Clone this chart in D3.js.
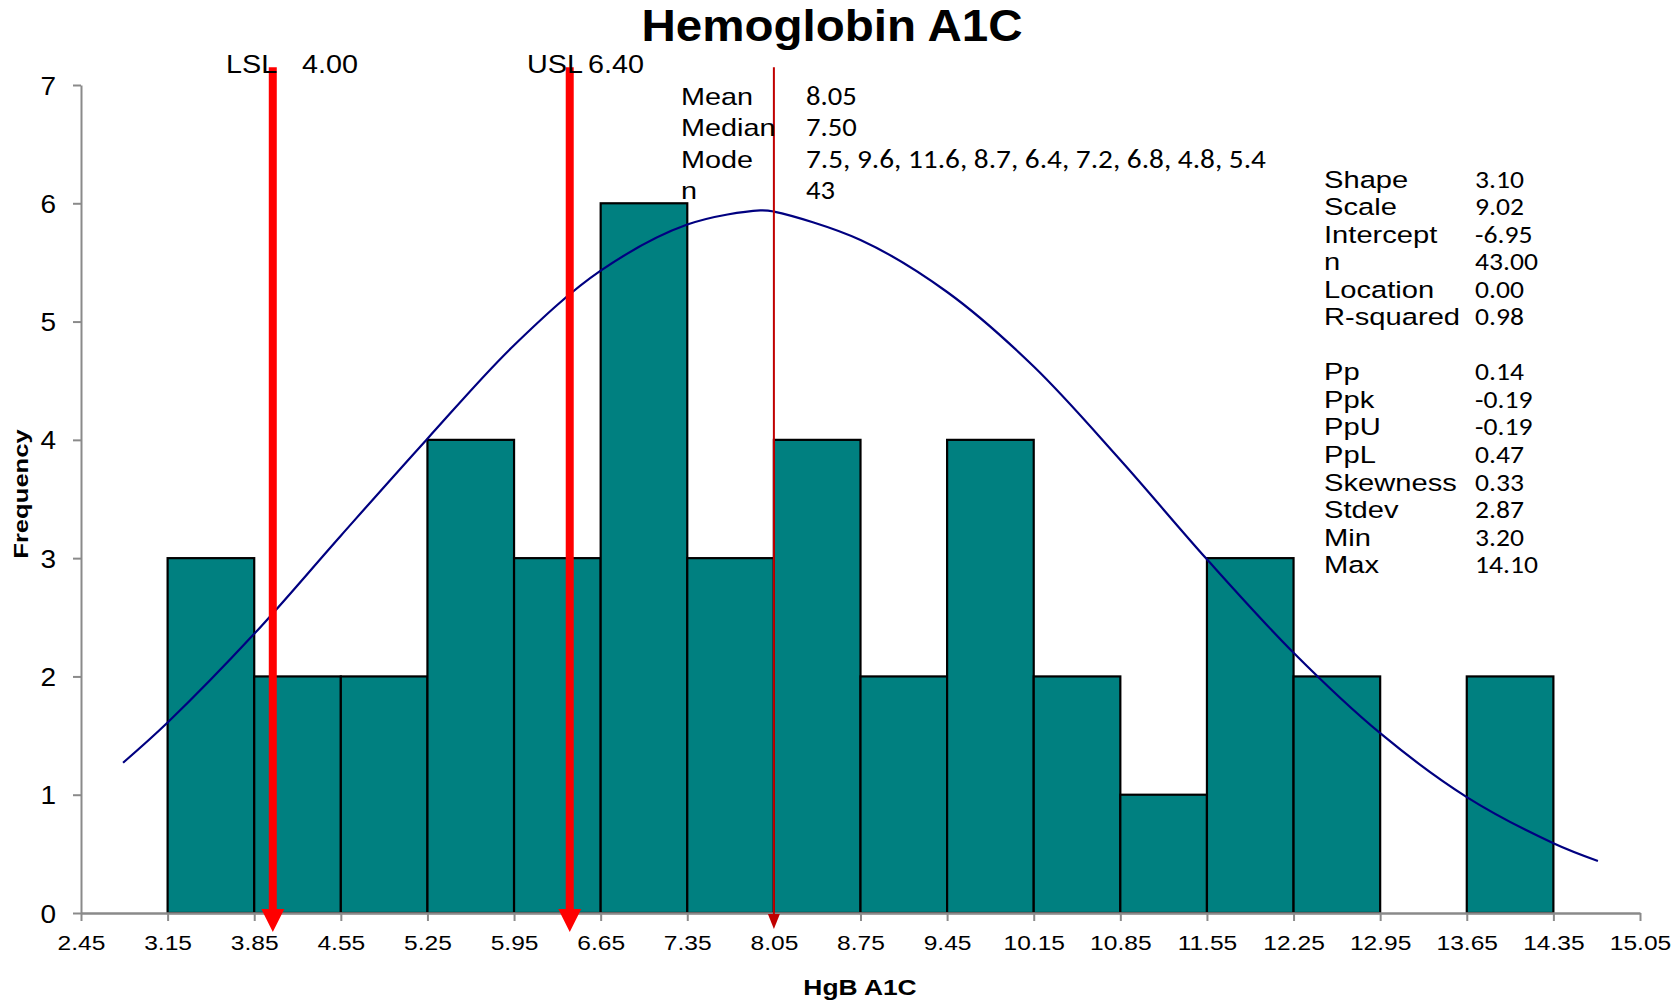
<!DOCTYPE html>
<html><head><meta charset="utf-8">
<script src="https://cdn.jsdelivr.net/npm/d3@7"></script>
<style>
html,body{margin:0;padding:0;background:#fff;}
svg{display:block;}
</style>
</head><body>
<svg id="chart" width="1671" height="1002"></svg>
<script>
// ---------- data ----------
const title = "Hemoglobin A1C";
const xTitle = "HgB A1C";
const yTitle = "Frequency";
const binLower = [3.15,3.85,4.55,5.25,5.95,6.65,7.35,8.05,8.75,9.45,10.15,10.85,11.55,12.25,12.95,13.65];
const counts   = [3,2,2,4,3,6,3,4,2,4,2,1,3,2,0,2];
const binWidth = 0.7;
const xTickLabels = ["2.45","3.15","3.85","4.55","5.25","5.95","6.65","7.35","8.05","8.75","9.45","10.15","10.85","11.55","12.25","12.95","13.65","14.35","15.05"];
const yTickValues = [0,1,2,3,4,5,6,7];
const curveX = [2.79,3.15,3.85,4.55,5.25,5.95,6.65,7.35,7.94,8.05,8.75,9.45,10.15,10.85,11.55,12.25,12.95,13.65,14.35,14.71];
const curveY = [1.27,1.61,2.36,3.19,4.01,4.80,5.43,5.82,5.94,5.93,5.69,5.25,4.62,3.83,2.99,2.20,1.52,0.98,0.59,0.44];
const specNames  = ["LSL","USL"];
const specValues = [4.00, 6.40];
const specLabels = ["4.00","6.40"];
const meanValue = 8.05;
const stats1Labels = ["Mean","Median","Mode","n"];
const stats1Values = ["8.05","7.50","7.5, 9.6, 11.6, 8.7, 6.4, 7.2, 6.8, 4.8, 5.4","43"];
const stats2Labels = ["Shape","Scale","Intercept","n","Location","R-squared","","Pp","Ppk","PpU","PpL","Skewness","Stdev","Min","Max"];
const stats2Values = ["3.10","9.02","-6.95","43.00","0.00","0.98","","0.14","-0.19","-0.19","0.47","0.33","2.87","3.20","14.10"];

// ---------- setup ----------
const svg = d3.select("#chart");
const SANS = "'Liberation Sans', Arial, Helvetica, sans-serif";
const VALF = "Carlito, Lato, 'Open Sans', sans-serif";
const x = d3.scaleLinear().domain([2.45, 15.05]).range([81, 1640]);
const y = d3.scaleLinear().domain([0, 7]).range([913, 85]);

function stext(g, px, py, str, o) {
  const t = g.append("text")
    .attr("transform", `translate(${px},${py}) scale(${o.sx || 1},1)`)
    .attr("font-family", o.family || SANS)
    .attr("font-size", o.size)
    .attr("font-weight", o.weight || "normal")
    .attr("text-anchor", o.anchor || "start")
    .attr("fill", o.fill || "#000")
    .text(str);
  return t;
}

// ---------- bars ----------
const bars = binLower.map((b, i) => ({lo: b, hi: b + binWidth, c: counts[i]})).filter(d => d.c > 0);
svg.append("g").selectAll("rect").data(bars).join("rect")
  .attr("x", d => x(d.lo))
  .attr("y", d => y(d.c))
  .attr("width", d => x(d.hi) - x(d.lo))
  .attr("height", d => y(0) - y(d.c))
  .attr("fill", "#008080")
  .attr("stroke", "#000")
  .attr("stroke-width", 2.2);

// ---------- axes ----------
const xAxis = d3.axisBottom(x)
  .tickValues(xTickLabels.map(Number))
  .tickFormat((d, i) => xTickLabels[i])
  .tickSize(8).tickSizeOuter(0).tickPadding(0);
const gx = svg.append("g").attr("transform", `translate(0,${y(0)})`).call(xAxis);
gx.select(".domain").attr("stroke", "#8a8a8a").attr("stroke-width", 2.5);
gx.selectAll(".tick line").attr("stroke", "#8a8a8a").attr("stroke-width", 2);
gx.selectAll(".tick text").remove();
gx.selectAll(".tick").each(function(d, i) {
  stext(d3.select(this), 0, 37, xTickLabels[i], {size: 21, sx: 1.17, anchor: "middle"});
});

const yAxis = d3.axisLeft(y).tickValues(yTickValues).tickFormat(d3.format("d"))
  .tickSize(8).tickSizeOuter(0);
const gy = svg.append("g").attr("transform", `translate(${x(2.45)},0)`).call(yAxis);
gy.select(".domain").attr("stroke", "#8a8a8a").attr("stroke-width", 2);
gy.selectAll(".tick line").attr("stroke", "#8a8a8a").attr("stroke-width", 2);
gy.selectAll(".tick text").remove();
gy.selectAll(".tick").each(function(d) {
  stext(d3.select(this), -25, 9, String(d), {size: 25, sx: 1.12, anchor: "end"});
});

// ---------- fitted curve ----------
const line = d3.line().x(d => x(d[0])).y(d => y(d[1])).curve(d3.curveCatmullRom.alpha(0.5));
svg.append("path")
  .datum(curveX.map((v, i) => [v, curveY[i]]))
  .attr("d", line)
  .attr("fill", "none")
  .attr("stroke", "#000080")
  .attr("stroke-width", 2.2);

// ---------- spec limit arrows ----------
const topY = y(7.15);
specValues.forEach((v, i) => {
  const px = x(v);
  svg.append("line").attr("x1", px).attr("x2", px).attr("y1", topY).attr("y2", 912)
    .attr("stroke", "#ff0000").attr("stroke-width", 8);
  svg.append("path").attr("d", `M${px - 11.5},909 L${px + 11.5},909 L${px},932 Z`).attr("fill", "#ff0000");
});
// mean arrow
{
  const px = x(meanValue);
  svg.append("line").attr("x1", px).attr("x2", px).attr("y1", topY).attr("y2", 916)
    .attr("stroke", "#c00000").attr("stroke-width", 2);
  svg.append("path").attr("d", `M${px - 6},914 L${px + 6},914 L${px},929 Z`).attr("fill", "#c00000");
}

// ---------- spec labels ----------
const labelG = svg.append("g");
stext(labelG, 226, 73, specNames[0], {size: 25, sx: 1.15});
stext(labelG, 302, 73, specLabels[0], {size: 25, sx: 1.15});
stext(labelG, 527, 73, specNames[1], {size: 25, sx: 1.15});
stext(labelG, 588, 73, specLabels[1], {size: 25, sx: 1.15});

// ---------- stats block 1 ----------
const s1 = svg.append("g");
const s1Base = [105, 136.3, 167.6, 198.8];
stats1Labels.forEach((l, i) => stext(s1, 681, s1Base[i], l, {size: 24, sx: 1.2}));
stats1Values.forEach((v, i) => {
  const t = stext(s1, 806, s1Base[i], v, {size: 26, sx: 1.1, family: VALF});
  if (i === 2) {
    const w = t.node().getComputedTextLength();
    t.attr("transform", `translate(806,${s1Base[i]}) scale(${460 / w},1)`);
  }
});

// ---------- stats block 2 ----------
const s2 = svg.append("g");
stats2Labels.forEach((l, i) => {
  const by = 187.5 + i * 27.55;
  if (l) stext(s2, 1324, by, l, {size: 23.5, sx: 1.24});
  if (stats2Values[i]) stext(s2, 1475, by, stats2Values[i], {size: 24, sx: 1.15, family: VALF});
});

// ---------- titles ----------
stext(svg, 832, 41, title, {size: 44, weight: "bold", sx: 1.08, anchor: "middle"});
stext(svg, 860, 995, xTitle, {size: 22, weight: "bold", sx: 1.2, anchor: "middle"});
svg.append("text")
  .attr("transform", "translate(28,494) rotate(-90) scale(1.22,1)")
  .attr("font-family", SANS).attr("font-size", 21).attr("font-weight", "bold")
  .attr("text-anchor", "middle").text(yTitle);
</script>
</body></html>
